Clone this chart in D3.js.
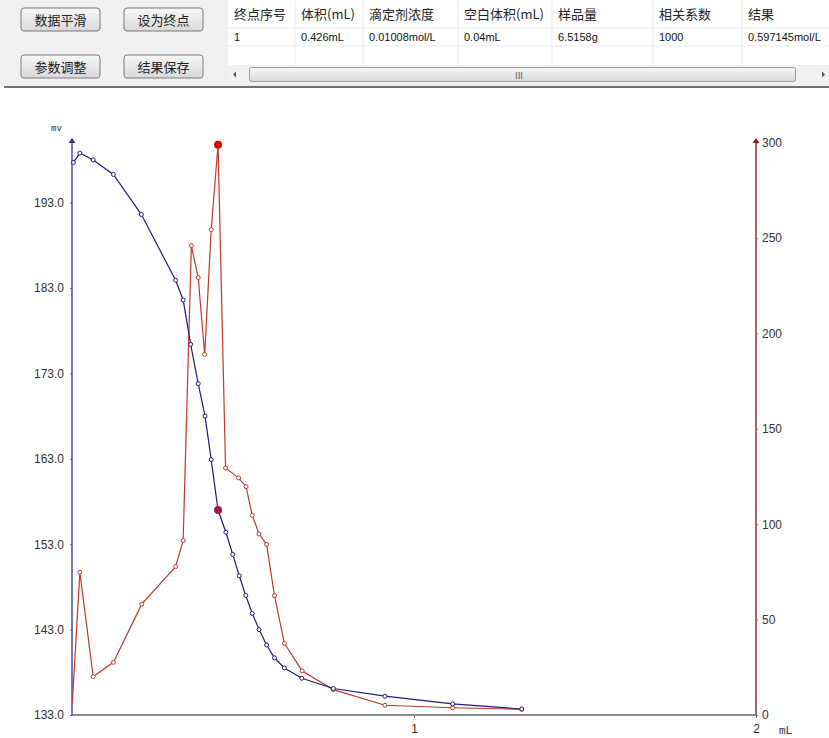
<!DOCTYPE html>
<html>
<head>
<meta charset="utf-8">
<script src="https://cdn.jsdelivr.net/npm/d3@7"></script>
<style>
  body { margin: 0; background: #fff; }
  svg { display: block; }
  .cjk { font-family: "Noto Sans CJK SC", sans-serif; }
  .tick text { font-family: "Liberation Sans", Arial, sans-serif; font-size: 12px; fill: #333; }
</style>
</head>
<body>
<svg id="chart"></svg>
<script>
// titration volume (mL) and potential (mV) for the blue curve
const volBlue = [0.004, 0.023, 0.062, 0.121, 0.203, 0.303, 0.325, 0.347, 0.369, 0.389, 0.407, 0.427, 0.450,
    0.470, 0.489, 0.508, 0.527, 0.547, 0.569, 0.592, 0.621, 0.672, 0.764, 0.915, 1.113, 1.315];
const mvValues = [197.7, 198.8, 198.0, 196.3, 191.6, 183.9, 181.6, 176.4, 171.8, 168.0, 162.9, 157.0, 154.4,
    151.8, 149.3, 147.0, 144.9, 143.0, 141.2, 139.7, 138.5, 137.3, 136.1, 135.2, 134.3, 133.7];
// first derivative curve (red, right axis)
const volRed = [0.001, 0.023, 0.062, 0.121, 0.204, 0.303, 0.325, 0.349, 0.369, 0.388, 0.407, 0.427, 0.449,
    0.487, 0.509, 0.527, 0.547, 0.569, 0.592, 0.621, 0.673, 0.764, 0.915, 1.113, 1.315];
const derivValues = [6.3, 74.8, 20.1, 27.6, 58.1, 77.8, 91.5, 246.0, 229.3, 189.0, 254.4, 298.9, 129.5,
    124.3, 119.7, 104.7, 94.9, 89.4, 62.6, 37.6, 23.1, 13.3, 5.1, 3.8, 3.0];
const endIdxBlue = 11, endIdxRed = 11;

const leftTicks = [133, 143, 153, 163, 173, 183, 193];
const rightTicks = [0, 50, 100, 150, 200, 250, 300];
const xTicks = [1, 2];

const buttons = [
    { label: '数据平滑', x: 21, y: 8 }, { label: '设为终点', x: 124, y: 8 },
    { label: '参数调整', x: 21, y: 55 }, { label: '结果保存', x: 124, y: 55 }
];
const tableHead = ['终点序号', '体积(mL)', '滴定剂浓度', '空白体积(mL)', '样品量', '相关系数', '结果'];
const tableRow = ['1', '0.426mL', '0.01008mol/L', '0.04mL', '6.5158g', '1000', '0.597145mol/L'];
const colX = [228, 295, 363, 458, 552, 653, 742];

const W = 829, H = 738;
const svg = d3.select('#chart').attr('width', W).attr('height', H);

// ---- top panel ----
const defs = svg.append('defs');
const g1 = defs.append('linearGradient').attr('id', 'btn').attr('x1', 0).attr('y1', 0).attr('x2', 0).attr('y2', 1);
g1.append('stop').attr('offset', '0%').attr('stop-color', '#f8f8f8');
g1.append('stop').attr('offset', '100%').attr('stop-color', '#d8d8d8');

svg.append('rect').attr('x', 0).attr('y', 0).attr('width', W).attr('height', 87).attr('fill', '#f0f0f0');
svg.append('rect').attr('x', 4).attr('y', 86).attr('width', W - 4).attr('height', 2).attr('fill', '#6f6f6f');

const btn = svg.append('g').selectAll('g').data(buttons).join('g')
    .attr('transform', d => `translate(${d.x},${d.y})`);
btn.append('rect').attr('width', 79).attr('height', 23).attr('rx', 3)
    .attr('fill', 'url(#btn)').attr('stroke', '#7a7a7a');
btn.append('text').attr('class', 'cjk').attr('x', 39.5).attr('y', 16.5)
    .attr('text-anchor', 'middle').attr('font-size', 13).attr('fill', '#222').text(d => d.label);

// table
const tbl = svg.append('g');
tbl.append('rect').attr('x', 228).attr('y', 0).attr('width', W - 228).attr('height', 65).attr('fill', '#fff');
tbl.selectAll('line.v').data(colX.slice(1)).join('line')
    .attr('x1', d => d).attr('x2', d => d).attr('y1', 0).attr('y2', 65).attr('stroke', '#ececec');
[28, 46].forEach(y => tbl.append('line').attr('x1', 228).attr('x2', W).attr('y1', y).attr('y2', y).attr('stroke', '#ececec'));
tbl.selectAll('text.h').data(tableHead).join('text').attr('class', 'cjk')
    .attr('x', (d, i) => colX[i] + 6).attr('y', 19).attr('font-size', 13).attr('fill', '#222').text(d => d);
tbl.selectAll('text.r').data(tableRow).join('text')
    .attr('x', (d, i) => colX[i] + 6).attr('y', 41).attr('font-family', 'Liberation Sans, Arial, sans-serif')
    .attr('font-size', 11).attr('fill', '#111').text(d => d);

// scrollbar
const sb = svg.append('g');
sb.append('rect').attr('x', 228).attr('y', 66).attr('width', W - 228).attr('height', 17).attr('fill', '#f2f2f2');
sb.append('rect').attr('x', 249.5).attr('y', 67.5).attr('width', 546).attr('height', 14).attr('rx', 2)
    .attr('fill', 'url(#btn)').attr('stroke', '#9a9a9a');
sb.append('text').attr('x', 519).attr('y', 79).attr('text-anchor', 'middle').attr('font-size', 9)
    .attr('font-family', 'DejaVu Sans').attr('fill', '#555').text('III');
sb.append('path').attr('d', 'M236,74.5 L233,74.5 L236,71.5 Z M233,74.5 L236,77.5 L236,74.5 Z').attr('fill', '#555');
sb.append('path').attr('d', 'M822,71.5 L825,74.5 L822,77.5 Z').attr('fill', '#555');

// ---- chart ----
const x = d3.scaleLinear().domain([0, 2]).range([72, 756]);
const yL = d3.scaleLinear().domain([133, 193]).range([715, 202.6]);
const yR = d3.scaleLinear().domain([0, 300]).range([715, 142.7]);
const axisTop = 138;

const leftCol = '#4a4aa8', rightCol = '#a86868', blueCol = '#1c1c7a', redCol = '#c0392b';

// bottom axis
svg.append('g').attr('transform', `translate(0,${yL(133)})`)
    .call(d3.axisBottom(x).tickValues(xTicks).tickSize(3).tickPadding(6).tickFormat(d3.format('d')))
    .call(g => g.select('.domain').remove())
    .call(g => g.selectAll('.tick line').attr('stroke', '#666'));
svg.append('line').attr('x1', x(0)).attr('x2', x(2)).attr('y1', 715).attr('y2', 715)
    .attr('stroke', '#8a8a8a').attr('stroke-width', 2);

// left axis
svg.append('g').attr('transform', `translate(${x(0)},0)`)
    .call(d3.axisLeft(yL).tickValues(leftTicks).tickSize(2).tickPadding(6).tickFormat(d3.format('.1f')))
    .call(g => g.select('.domain').remove())
    .call(g => g.selectAll('.tick line').attr('stroke', '#666'));
svg.append('line').attr('x1', x(0)).attr('x2', x(0)).attr('y1', 715).attr('y2', axisTop + 3)
    .attr('stroke', leftCol).attr('stroke-width', 1.5);
svg.append('path').attr('d', `M${x(0) - 3.5},${axisTop + 5} L${x(0)},${axisTop} L${x(0) + 3.5},${axisTop + 5} Z`)
    .attr('fill', '#2a2a9a');

// right axis
svg.append('g').attr('transform', `translate(${x(2)},0)`)
    .call(d3.axisRight(yR).tickValues(rightTicks).tickSize(2).tickPadding(4))
    .call(g => g.select('.domain').remove())
    .call(g => g.selectAll('.tick line').attr('stroke', '#666'));
svg.append('line').attr('x1', x(2)).attr('x2', x(2)).attr('y1', 715).attr('y2', axisTop + 3)
    .attr('stroke', rightCol).attr('stroke-width', 2);
svg.append('path').attr('d', `M${x(2) - 3.5},${axisTop + 5} L${x(2)},${axisTop} L${x(2) + 3.5},${axisTop + 5} Z`)
    .attr('fill', '#a01020');

// unit labels
svg.append('text').attr('x', 51).attr('y', 131).attr('font-family', 'DejaVu Sans Mono, monospace')
    .attr('font-size', 9).attr('fill', '#333').text('mv');
svg.append('text').attr('x', 779).attr('y', 734).attr('font-family', 'DejaVu Sans Mono, monospace')
    .attr('font-size', 11).attr('fill', '#333').text('mL');

// curves
const blueData = volBlue.map((v, i) => ({ v, y: mvValues[i] }));
const redData = volRed.map((v, i) => ({ v, y: derivValues[i] }));

svg.append('path').datum(redData).attr('fill', 'none').attr('stroke', redCol).attr('stroke-width', 1.2)
    .attr('d', d3.line().x(d => x(d.v)).y(d => yR(d.y)));
svg.append('path').datum(blueData).attr('fill', 'none').attr('stroke', blueCol).attr('stroke-width', 1.2)
    .attr('d', d3.line().x(d => x(d.v)).y(d => yL(d.y)));

svg.append('g').selectAll('circle').data(redData.filter((d, i) => i > 0 && i !== endIdxRed)).join('circle')
    .attr('cx', d => x(d.v)).attr('cy', d => yR(d.y)).attr('r', 2)
    .attr('fill', '#fff').attr('stroke', redCol).attr('stroke-width', 1);
svg.append('g').selectAll('circle').data(blueData.filter((d, i) => i !== endIdxBlue)).join('circle')
    .attr('cx', d => x(d.v)).attr('cy', d => yL(d.y)).attr('r', 2)
    .attr('fill', '#fff').attr('stroke', blueCol).attr('stroke-width', 1);

// endpoint markers
svg.append('circle').attr('cx', x(redData[endIdxRed].v)).attr('cy', yR(redData[endIdxRed].y)).attr('r', 4)
    .attr('fill', '#e00000');
svg.append('circle').attr('cx', x(blueData[endIdxBlue].v)).attr('cy', yL(blueData[endIdxBlue].y)).attr('r', 4)
    .attr('fill', '#a01848');
</script>
</body>
</html>
